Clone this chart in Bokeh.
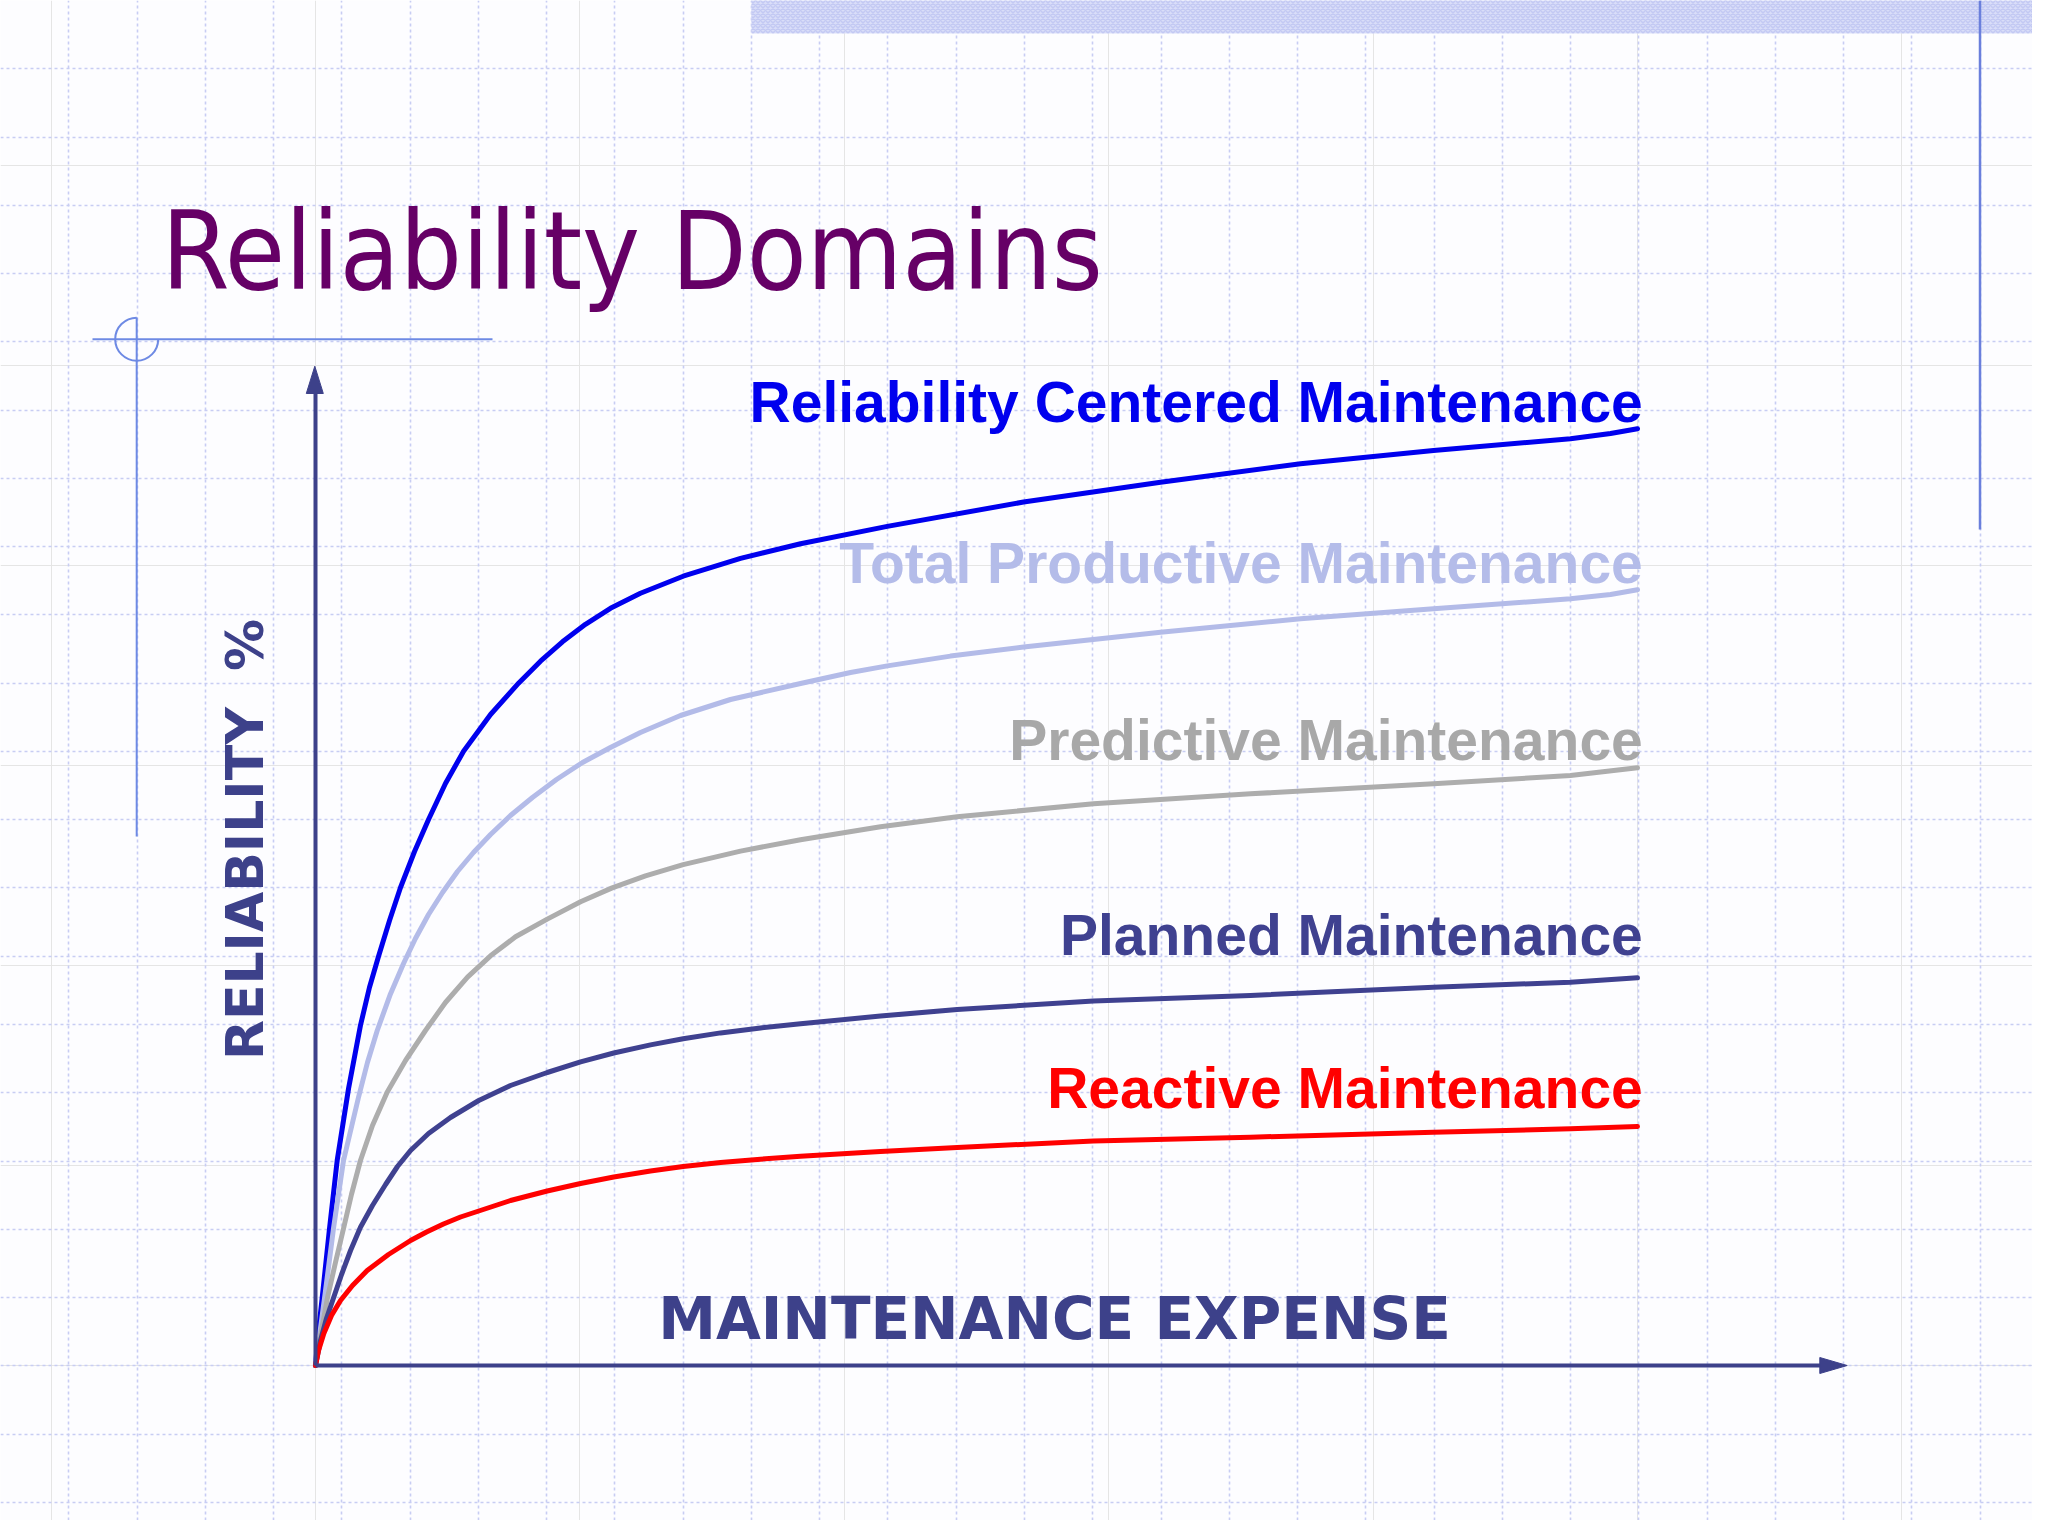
import math
from bokeh.plotting import figure
from bokeh.models import Range1d, Grid, FixedTicker, ColumnDataSource
from bokeh.core.properties import value
from bokeh.embed import file_html
from bokeh.resources import INLINE

# ---------------- data (expense 0..100, reliability 0..100) ----------------
rcm_x = [0, 0.23, 0.51, 1.06, 1.64, 2.50, 3.40, 4.08, 4.77, 5.60, 6.43, 7.49, 8.55, 9.83, 11.20, 13.24,
         15.36, 17.02, 18.68, 20.42, 22.31, 24.58, 27.81, 32.15, 36.69, 43.25, 53.56, 63.92, 74.51,
         84.57, 94.93, 97.96, 100]
rcm_y = [0, 3.5, 6.83, 13.7, 20.5, 27.7, 34.0, 37.8, 40.93, 44.5, 47.8, 51.4, 54.6, 58.2, 61.43, 65.1,
         68.23, 70.43, 72.37, 74.12, 75.72, 77.22, 78.93, 80.71, 82.18, 83.91, 86.35, 88.33, 90.17,
         91.5, 92.67, 93.2, 93.67]

tpm_x = [0, 0.76, 1.36, 2.12, 3.25, 3.93, 4.67, 5.67, 6.66, 7.56, 8.55, 9.61, 10.74, 11.95, 13.24,
         14.75, 16.41, 18.23, 20.20, 22.31, 24.58, 27.61, 31.39, 36.69, 40.47, 43.25, 48.03, 53.56,
         63.92, 74.51, 84.57, 94.93, 97.96, 100]
tpm_y = [0, 7.5, 13.7, 20.5, 26.8, 30.3, 33.5, 37.16, 40.2, 42.7, 45.1, 47.3, 49.4, 51.3, 53.1,
         55.0, 56.8, 58.6, 60.3, 61.8, 63.3, 65.0, 66.6, 68.2, 69.3, 69.96, 70.94, 71.85,
         73.33, 74.67, 75.67, 76.67, 77.1, 77.57]

pdm_x = [0, 0.45, 0.91, 1.51, 2.12, 2.72, 3.40, 4.31, 5.42, 6.81, 8.32, 9.83, 11.50, 13.24, 15.13,
         17.53, 20.05, 22.44, 24.96, 27.81, 32.15, 36.69, 42.74, 48.54, 58.85, 70.73, 84.57, 94.93, 100]
pdm_y = [0, 3.5, 6.8, 10.3, 13.7, 17.1, 20.5, 24.0, 27.33, 30.5, 33.5, 36.3, 38.83, 40.97, 42.87,
         44.64, 46.37, 47.76, 48.96, 50.09, 51.44, 52.58, 53.87, 54.88, 56.17, 57.17, 58.17, 59.0, 59.77]

plm_x = [0, 0.38, 0.83, 1.38, 1.97, 2.65, 3.40, 4.31, 5.30, 6.20, 7.19, 8.55, 10.21, 12.35, 14.75,
         17.53, 20.05, 22.56, 25.34, 27.81, 30.64, 33.66, 36.69, 42.74, 48.54, 58.85, 70.73, 84.57,
         94.93, 100]
plm_y = [0, 2.5, 4.7, 6.83, 9.1, 11.5, 13.83, 16.0, 18.1, 19.9, 21.5, 23.2, 24.8, 26.5, 28.0,
         29.3, 30.37, 31.25, 32.06, 32.68, 33.26, 33.76, 34.18, 34.94, 35.61, 36.45, 37.0, 37.83,
         38.33, 38.77]

rem_x = [0, 0.23, 0.63, 1.21, 1.89, 2.80, 3.91, 5.52, 7.19, 8.40, 9.68, 10.97, 12.35, 14.75, 17.53,
         20.05, 22.56, 25.34, 27.81, 30.64, 33.66, 36.69, 42.74, 48.54, 58.85, 70.73, 84.57, 94.93, 100]
rem_y = [0, 1.5, 3.2, 5.0, 6.5, 8.0, 9.5, 11.1, 12.5, 13.35, 14.15, 14.85, 15.45, 16.5, 17.45,
         18.2, 18.85, 19.45, 19.9, 20.3, 20.63, 20.92, 21.4, 21.8, 22.45, 22.83, 23.33, 23.67, 23.9]

series_names = ["Reliability Centered Maintenance", "Total Productive Maintenance",
                "Predictive Maintenance", "Planned Maintenance", "Reactive Maintenance"]
series_colors = ["#0000ee", "#b3bbe8", "#adadad", "#3f4190", "#ff0000"]
label_colors = ["#0000ee", "#b4bce9", "#a8a8a8", "#3f4190", "#ff0000"]
label_x = [100.4, 100.4, 100.4, 100.4, 100.4]
label_y = [96.4, 80.3, 62.6, 43.1, 27.8]

title_text = "Reliability Domains"
x_label_text = "MAINTENANCE EXPENSE"
y_label_text = "RELIABILITY\u00a0\u00a0%"

# ---------------- layout helpers (reference pixel -> data) ----------------
W, H = 2032, 1520
OX, OY = 315.0, 1365.0
SX, SY = 13.22, 10.0
def dx(px):
    return (px - OX) / SX
def dy(py):
    return (OY - py) / SY

AXIS = "#3d418a"
DECO = "#6e8ae4"
GRID = "#c8cdf3"

p = figure(width=W, height=H,
           x_range=Range1d(dx(0), dx(W)), y_range=Range1d(dy(H), dy(0)),
           output_backend="svg", toolbar_location=None,
           x_axis_location=None, y_axis_location=None, min_border=0)
p.outline_line_color = None
p.background_fill_color = "#fdfdff"
p.border_fill_color = "#fdfdff"

step = 2048 / 30.0
gx = [dx(step * k) for k in range(1, 30)]
gy = [dy(step * k) for k in range(1, 23)]
p.add_layout(Grid(dimension=0, ticker=FixedTicker(ticks=gx), grid_line_color=GRID,
                  grid_line_width=1.6, grid_line_dash="3 3"))
p.add_layout(Grid(dimension=1, ticker=FixedTicker(ticks=gy), grid_line_color=GRID,
                  grid_line_width=1.6, grid_line_dash="3 3"))

# top textured band
p.quad(left=[dx(751)], right=[dx(2060)], top=[dy(-10)], bottom=[dy(33)],
       fill_color="#d9ddf8", line_color=None,
       hatch_pattern="diagonal_cross", hatch_color="#c3c9f3", hatch_scale=5, hatch_weight=1.5)

# right decorative vertical line
p.line([dx(1979.5), dx(1979.5)], [dy(0), dy(529)], line_color="#6a7fdc", line_width=2.5)

# left decorative cross & arc
p.line([dx(92), dx(492)], [dy(338.7), dy(338.7)], line_color=DECO, line_width=2)
p.line([dx(136.2), dx(136.2)], [dy(317), dy(836)], line_color=DECO, line_width=2)
p.arc(x=[dx(136.2)], y=[dy(338.7)], radius=21.5, radius_units="screen",
      start_angle=math.pi / 2, end_angle=2 * math.pi, direction="anticlock",
      line_color=DECO, line_width=2)

# curves
for xs, ys, c in zip([rcm_x, tpm_x, pdm_x, plm_x, rem_x],
                     [rcm_y, tpm_y, pdm_y, plm_y, rem_y], series_colors):
    p.line(xs, ys, line_color=c, line_width=5, line_cap="round", line_join="round")

# axes with arrowheads
p.line([0, 0], [0, dy(392)], line_color=AXIS, line_width=4)
p.line([0, dx(1820)], [0, 0], line_color=AXIS, line_width=4)
p.patch([dx(314.3), dx(305.8), dx(322.8)], [dy(365.7), dy(393), dy(393)],
        fill_color=AXIS, line_color=AXIS, line_width=1)
p.patch([dx(1846.7), dx(1819.3), dx(1819.3)], [dy(1365), dy(1357), dy(1373)],
        fill_color=AXIS, line_color=AXIS, line_width=1)

# curve labels
lab = ColumnDataSource(dict(x=label_x, y=label_y, text=series_names, color=label_colors))
p.text(x="x", y="y", text="text", source=lab, text_color="color",
       text_font=value("Liberation Sans"), text_font_style="bold", text_font_size="57px",
       text_align="right", text_baseline="alphabetic")

# axis titles
p.text(x=[dx(1054)], y=[dy(1318)], text=[x_label_text], text_color=AXIS,
       text_font=value("DejaVu Sans"), text_font_style="bold", text_font_size="58px",
       text_align="center", text_baseline="alphabetic")
p.text(x=[dx(244)], y=[dy(839)], text=[y_label_text], text_color=AXIS, angle=math.pi / 2,
       text_font=value("DejaVu Sans"), text_font_style="bold", text_font_size="52px",
       text_align="center", text_baseline="alphabetic")

# slide title
p.text(x=[dx(161)], y=[dy(251)], text=[title_text], text_color="#660066",
       text_font=value("DejaVu Sans Condensed"), text_font_size="109px",
       text_align="left", text_baseline="alphabetic")

open("out.html", "w").write(file_html(p, INLINE))
